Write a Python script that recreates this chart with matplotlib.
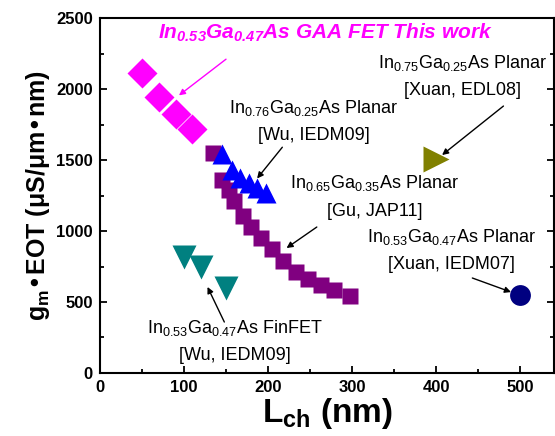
import matplotlib
matplotlib.use('Agg')
import matplotlib.pyplot as plt
from matplotlib.ticker import MultipleLocator

plt.rcParams['font.family'] = ['Liberation Sans', 'DejaVu Sans']
plt.rcParams['mathtext.default'] = 'regular'

# GAA FET (this work)
gaa_L = [50, 70, 90, 110]
gaa_g = [2115, 1945, 1825, 1720]

# In0.65Ga0.35As planar [Gu, JAP11]
gu_L = [135, 145, 153, 160, 170, 180, 192, 205, 218, 233, 248, 263, 278, 298]
gu_g = [1550, 1360, 1290, 1210, 1105, 1030, 950, 870, 790, 710, 665, 620, 585, 545]

# In0.76Ga0.25As planar [Wu, IEDM09]
wu_L = [145, 157, 167, 177, 187, 198]
wu_g = [1540, 1430, 1375, 1340, 1305, 1270]

# FinFET [Wu, IEDM09]
fin_L = [100, 120, 150]
fin_g = [820, 745, 600]

# [Xuan, EDL08] and [Xuan, IEDM07]
edl_L = [400]
edl_g = [1510]
iedm07_L = [500]
iedm07_g = [550]

fig = plt.figure(figsize=(5.55, 4.36), dpi=100)
ax = fig.add_axes([0.180, 0.1445, 0.818, 0.8142])

ax.plot(gu_L, gu_g, 's', color='#800080', ms=12, mec='none')
ax.plot(wu_L, wu_g, '^', color='#0000FF', ms=14.5, mec='none')
ax.plot(gaa_L, gaa_g, 'D', color='#FF00FF', ms=15.5, mec='none')
ax.plot(fin_L, fin_g, 'v', color='#008080', ms=17, mec='none')
ax.plot(edl_L, edl_g, '>', color='#808000', ms=19, mec='none')
ax.plot(iedm07_L, iedm07_g, 'o', color='#000080', ms=15, mec='none')

ax.set_xlim(0, 540)
ax.set_ylim(0, 2500)
ax.xaxis.set_major_locator(MultipleLocator(100))
ax.xaxis.set_minor_locator(MultipleLocator(50))
ax.yaxis.set_major_locator(MultipleLocator(500))
ax.yaxis.set_minor_locator(MultipleLocator(250))
ax.tick_params(which='both', direction='in', right=True, width=1.3)
ax.tick_params(which='major', length=5, labelsize=12, pad=5)
ax.tick_params(which='minor', length=3)
for lab in ax.get_xticklabels() + ax.get_yticklabels():
    lab.set_fontweight('bold')
for s in ax.spines.values():
    s.set_linewidth(1.5)

ax.set_xlabel('L$_{ch}$ (nm)', fontsize=24, fontweight='bold', labelpad=1)
ax.set_ylabel('g$_m$•EOT (μS/μm•nm)', fontsize=18, fontweight='bold', labelpad=3)

arr = dict(arrowstyle='-|>', color='black', lw=1, mutation_scale=9, shrinkA=0, shrinkB=0)

ax.text(268, 2394, 'In$_{0.53}$Ga$_{0.47}$As GAA FET This work',
        ha='center', va='center', color='#FF00FF', fontsize=15, fontweight='bold', style='italic')
ax.annotate('', xy=(94, 1955), xytext=(150, 2210),
            arrowprops=dict(arr, color='#FF00FF'))

ax.text(431, 2092, 'In$_{0.75}$Ga$_{0.25}$As Planar\n[Xuan, EDL08]', ha='center', va='center',
        fontsize=13, linespacing=1.7)
ax.annotate('', xy=(407, 1535), xytext=(480, 1880), arrowprops=arr)

ax.text(254, 1775, 'In$_{0.76}$Ga$_{0.25}$As Planar\n[Wu, IEDM09]', ha='center', va='center',
        fontsize=13, linespacing=1.7)
ax.annotate('', xy=(187, 1370), xytext=(217, 1590), arrowprops=arr)

ax.text(327, 1243, 'In$_{0.65}$Ga$_{0.35}$As Planar\n[Gu, JAP11]', ha='center', va='center',
        fontsize=13, linespacing=1.7)
ax.annotate('', xy=(222, 880), xytext=(258, 1028), arrowprops=arr)

ax.text(418, 866, 'In$_{0.53}$Ga$_{0.47}$As Planar\n[Xuan, IEDM07]', ha='center', va='center',
        fontsize=13, linespacing=1.7)
ax.annotate('', xy=(489, 570), xytext=(443, 669), arrowprops=arr)

ax.text(161, 225, 'In$_{0.53}$Ga$_{0.47}$As FinFET\n[Wu, IEDM09]', ha='center', va='center',
        fontsize=13, linespacing=1.7)
ax.annotate('', xy=(128, 606), xytext=(148, 359), arrowprops=arr)

fig.savefig('out.png', dpi=100)
